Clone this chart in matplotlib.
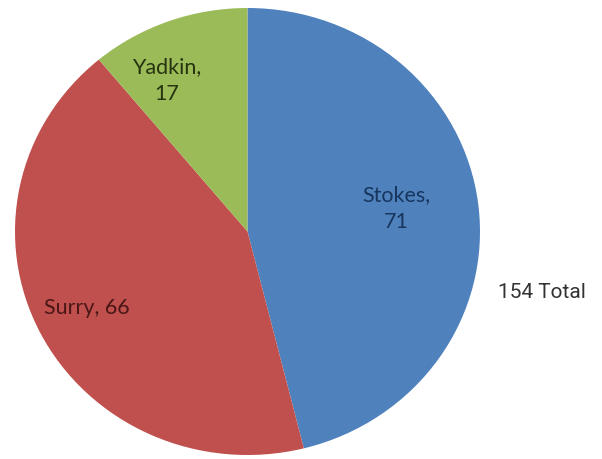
import matplotlib.pyplot as plt
import numpy as np

counties = ["Stokes", "Surry", "Yadkin"]
counts = [71, 66, 17]
total_label = "154 Total"

colors = ["#4F81BD", "#C0504D", "#9BBB59"]
text_colors = ["#17365D", "#4A1717", "#26330F"]

fig = plt.figure(figsize=(6.02, 4.59), dpi=100)
# the pie is a little wider than tall in the reference
ax = fig.add_axes([15 / 602, 4 / 459, 465 / 602, 447 / 459])

wedges, _ = ax.pie(
    counts,
    colors=colors,
    startangle=90,
    counterclock=False,
    wedgeprops=dict(linewidth=0),
)
ax.set_aspect("auto")
ax.set_xlim(-1, 1)
ax.set_ylim(-1, 1)

# labels: "name, value" inside each wedge
label_text = ["Stokes,\n71", "Surry, 66", "Yadkin,\n17"]
label_dist = [0.65, 0.77, 0.76]
label_shift = [2.0, -0.5, 7.5]  # degrees, nudges from wedge middle
for w, txt, d, s, c in zip(wedges, label_text, label_dist, label_shift, text_colors):
    ang = np.deg2rad((w.theta1 + w.theta2) / 2 + s)
    ax.text(d * np.cos(ang), d * np.sin(ang), txt, ha="center", va="center",
            fontsize=15.5, color=c, family=["Lato", "DejaVu Sans"],
            linespacing=1.45)

fig.text(498 / 602, 1 - 293 / 459, total_label, ha="left", va="center",
         fontsize=15, color="#333333",
         family=["Roboto", "DejaVu Sans"])

fig.savefig("out.png", dpi=100)
